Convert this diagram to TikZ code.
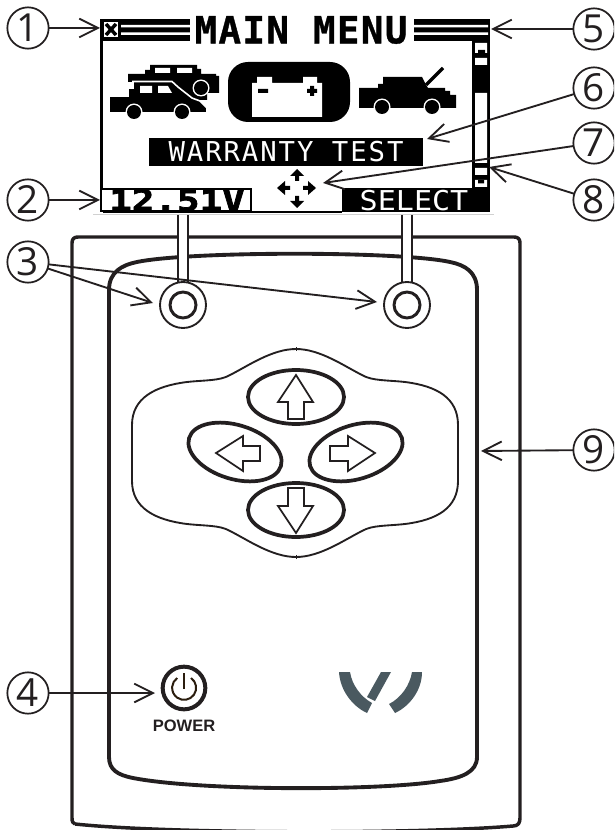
\documentclass[tikz,border=0pt]{standalone}
\usepackage{fontspec}
\usetikzlibrary{arrows.meta,shapes.geometric}
\setmainfont{Liberation Sans}
\newfontfamily\numfont{Open Sans}
\newfontfamily\menufont[LetterSpace=4,BoldFeatures={FakeBold=1}]{DejaVu Sans Mono}
\newfontfamily\warrfont[LetterSpace=7]{DejaVu Sans Mono}
\newfontfamily\voltfont[FakeStretch=1.28,BoldFeatures={FakeBold=2.5}]{DejaVu Sans Mono}
\newfontfamily\selfont[FakeStretch=1.1]{DejaVu Sans Mono}
\definecolor{ink}{HTML}{231F20}
\definecolor{logoc}{HTML}{4A5960}
\definecolor{pwr}{HTML}{2B1D0E}
\tikzset{
  lbl/.style={circle,draw=ink,line width=1.3pt,fill=white,minimum size=31pt,inner sep=0pt,outer sep=0pt,
    font=\numfont\fontsize{29}{29}\selectfont,text=ink},
  arr/.style={draw=ink,line width=1.4pt,-{Straight Barb[length=14pt,width=14pt,line width=1.4pt]}},
  body/.style={draw=ink,line width=2.6pt,line join=round},
  keyb/.style={ellipse,draw=ink,line width=2.8pt,fill=white,minimum width=72pt,minimum height=40.5pt,inner sep=0pt,outer sep=0pt},
  harrow/.style={draw=ink,line width=1.3pt,fill=white,line join=miter},
  stem/.style={draw=ink,line width=1.4pt},
  round1/.style={circle,draw=ink,line width=1.4pt,fill=white,minimum size=34.5pt,inner sep=0pt,outer sep=0pt},
  round2/.style={circle,draw=ink,line width=2.2pt,fill=white,minimum size=19.5pt,inner sep=0pt,outer sep=0pt},
  lcdtext/.style={inner sep=0pt,outer sep=0pt},
}
\begin{document}
\begin{tikzpicture}[x=0.75pt,y=-0.75pt]
\path[use as bounding box] (0,0) rectangle (614,830);
\clip (0,0) rectangle (614,830);
% outer body
\draw[body] (75,824) .. controls (73,823) and (72,822) .. (72,818) -- (72,243)
  .. controls (72,239) and (74,237) .. (78,237) -- (514,237)
  .. controls (518,237) and (520,239) .. (520,243) -- (520,818)
  .. controls (520,823) and (518,826) .. (513,826)
  .. controls (420,834) and (170,834) .. (75,824);
% inner body
\draw[body,line width=2.9pt] (109,757) -- (109,290) .. controls (109,272) and (122,265) .. (137,262)
  .. controls (190,251) and (400,251) .. (450,262)
  .. controls (465,265) and (477,272) .. (477,290) -- (477,757)
  .. controls (477,772) and (462,778) .. (440,781)
  .. controls (380,791) and (200,791) .. (133,778)
  .. controls (118,775) and (109,770) .. (109,757);
% key pad blob
\draw[draw=ink,line width=1.4pt] (296,349)
  .. controls (272,349) and (248,366) .. (230,375)
  .. controls (220,381) and (205,380) .. (187,382)
  .. controls (155,386) and (132,398) .. (132,425) -- (132,481)
  .. controls (132,508) and (155,520) .. (187,524)
  .. controls (205,526) and (220,525) .. (230,531)
  .. controls (248,540) and (272,557) .. (296,557)
  .. controls (320,557) and (344,540) .. (362,531)
  .. controls (372,525) and (387,526) .. (405,524)
  .. controls (437,520) and (458,508) .. (458,481) -- (458,425)
  .. controls (458,398) and (437,386) .. (405,382)
  .. controls (387,380) and (372,381) .. (362,375)
  .. controls (344,366) and (320,349) .. (296,349);
\draw[draw=ink,line width=0.6pt] (296,347) -- (296,351) (296,555) -- (296,559);
% keys
\node[keyb] (keyU) at (296,397) {};
\node[keyb] (keyD) at (296,510) {};
\node[keyb,rotate=-17] (keyL) at (235,452) {};
\node[keyb,rotate=17] (keyR) at (356,452) {};
\draw[harrow] (296,375) -- (313,402) -- (304,402) -- (304,419) -- (288,419) -- (288,402) -- (278,402) -- cycle;
\draw[harrow] (296,533) -- (313,506) -- (304,506) -- (304,488) -- (288,488) -- (288,506) -- (278,506) -- cycle;
\draw[harrow] (216,453) -- (243,436) -- (243,446) -- (260,446) -- (260,461) -- (243,461) -- (243,471) -- cycle;
\draw[harrow] (375,453) -- (348,436) -- (348,446) -- (330,446) -- (330,461) -- (348,461) -- (348,471) -- cycle;
% soft-key stems and buttons
\fill[white] (178,214) rectangle (188,290);
\fill[white] (402,214) rectangle (412,290);
\draw[stem] (178,214) -- (178,290) (188,214) -- (188,290) (402,214) -- (402,290) (412,214) -- (412,290);
\node[round1] (softL) at (183,305) {};
\node[round2] (softLi) at (183,305) {};
\node[round1] (softR) at (407,305) {};
\node[round2] (softRi) at (407,305) {};
% screen
\draw[draw=black!18,line width=0.5pt] (93,214) -- (494,214);
\fill[black] (100,19) rectangle (103,212);
\fill[black] (103,211.2) rectangle (342,212.6);
\fill[black] (100,19) rectangle (190,41);
\fill[black] (414,19) rectangle (490,41);
\fill[black] (472,41) rectangle (490,212);
\fill[white] (121,25) rectangle (190,27.5) (121,32.5) rectangle (190,35);
\fill[white] (414,25) rectangle (488,27.5) (414,32.5) rectangle (488,35);
\fill[white] (104,22) rectangle (118,37);
\draw[black,line width=2.6pt] (106,24) -- (116,35) (116,24) -- (106,35);
\node[lcdtext,font=\menufont\bfseries\fontsize{28}{30}\selectfont] (title) at (301,30) {MAIN MENU};
% scroll bar
\fill[white] (475,43) rectangle (487,53) (475,58) rectangle (487,65) (475,93) rectangle (487,163) (475,168) rectangle (487,175) (475,180) rectangle (487,187);
\fill[black] (478,50) rectangle (485,53) (478,180) rectangle (484,183.5);
% rear car
\fill[black] (128,74) -- (145,74) -- (145,70) -- (150,70) -- (150,65) -- (197,65) -- (197,69) -- (201,69) -- (201,74) -- (216,74) -- (216,76) -- (219,76) -- (219,93) -- (207,93) -- (207,100) -- (133,100) -- (133,82) -- (128,82) -- cycle;
\fill[white] (155,68) rectangle (170,73) (177,68) rectangle (192,73);
\fill[white] (201,88) circle[radius=8.5];
\fill[black] (201,88) circle[radius=7];
% front car
\filldraw[black,draw=white,line width=1.2pt,line join=miter] (109,96) -- (128,96) -- (128,88) -- (133,88) -- (133,81.5) -- (172,81.5) -- (178,87) -- (192,98) -- (200,101) -- (207,108) -- (207,113) -- (109,113) -- cycle;
\fill[white] (140,86) rectangle (152,93) (158,86) -- (168,86) -- (172,93) -- (158,93) -- cycle;
\fill[white] (134,112) circle[radius=8.5] (182,112) circle[radius=8.5];
\fill[black] (134,112) circle[radius=7] (182,112) circle[radius=7];
% battery icon
\fill[black,rounded corners=15pt] (228,62) rectangle (350,122);
\fill[white] (252,83) rectangle (322,117) (257,77) rectangle (272,83) (303,77) rectangle (317,83);
\fill[black] (258,89) rectangle (268,93) (310,86) rectangle (314,96) (307,89) rectangle (317,93);
% open-bonnet car
\fill[black] (359,88) -- (378,88) -- (378,84) -- (383,84) -- (383,77) -- (422,77) -- (426,85) -- (428,88) -- (445,88) -- (445,91) -- (450,91) -- (450,95) -- (456,95) -- (456,108) -- (359,108) -- cycle;
\draw[black,line width=2.6pt] (426,85) -- (443,68);
\fill[white] (382,107) circle[radius=8.5] (432,107) circle[radius=8.5];
\fill[black] (382,107) circle[radius=7] (432,107) circle[radius=7];
% warranty bar
\node[lcdtext,fill=black,text=white,minimum width=205.5pt,minimum height=21pt,font=\warrfont\fontsize{20.5}{22}\selectfont] (warranty) at (286,152) {WARRANTY TEST};
% cross of arrows
\fill[black] (297,169) -- (304,176) -- (299,176) -- (299,181) -- (295,181) -- (295,176) -- (290,176) -- cycle;
\fill[black] (297,208) -- (304,201) -- (299,201) -- (299,196) -- (295,196) -- (295,201) -- (290,201) -- cycle;
\fill[black] (277,188) -- (285,181) -- (285,186) -- (290,186) -- (290,190) -- (285,190) -- (285,195) -- cycle;
\fill[black] (316,188) -- (308,181) -- (308,186) -- (303,186) -- (303,190) -- (308,190) -- (308,195) -- cycle;
% soft-key captions
\draw[black,line width=2.2pt,fill=white] (101,189) rectangle (251,211);
\node[lcdtext,font=\voltfont\bfseries\fontsize{22}{23}\selectfont] (volt) at (177,200) {12.51V};
\fill[black] (342,188) rectangle (490,212);
\node[lcdtext,text=white,font=\selfont\fontsize{20.5}{22}\selectfont] (select) at (414,201) {SELECT};
% power button
\node[circle,draw=ink,line width=3pt,fill=white,minimum size=32pt,inner sep=0pt,outer sep=0pt] (power) at (184,688) {};
\draw[draw=pwr,line width=1.5pt] (191,678) arc[start angle=-55,end angle=235,radius=12];
\draw[draw=pwr,line width=1.5pt] (184,673) -- (184,689);
\node[inner sep=0pt,text=ink,font=\bfseries\fontsize{12.4}{13}\selectfont] (powerlabel) at (184,726) {POWER};
% logo
\fill[logoc] (339,672) -- (350,672) .. controls (352,685) and (361,697) .. (372,703) -- (367,713) .. controls (352,706) and (340,690) .. cycle;
\fill[logoc] (422,672) -- (412,672) .. controls (410,685) and (401,698) .. (389,704) -- (395,713) .. controls (410,706) and (422,690) .. cycle;
\fill[logoc] (381,672) -- (391,672) -- (375,701) -- (367,697) -- cycle;
% callouts
\node[lbl] (n1) at (28,28) {1};
\node[lbl] (n2) at (28,200) {2};
\node[lbl] (n3) at (28,262) {3};
\node[lbl] (n4) at (28,693) {4};
\node[lbl] (n5) at (594,29) {5};
\node[lbl] (n6) at (594,88) {6};
\node[lbl] (n7) at (594,143) {7};
\node[lbl] (n8) at (594,200) {8};
\node[lbl] (n9) at (594,450) {9};
\coordinate (t1) at (100,28);
\coordinate (t2) at (100,200);
\coordinate (t3a) at (153,303);
\coordinate (t3b) at (377,302);
\coordinate (t4) at (155,693);
\coordinate (t5) at (491,29);
\coordinate (t6) at (427,139);
\coordinate (t7) at (323,183);
\coordinate (t8) at (489,167);
\coordinate (t9) at (481,451);
\draw[arr] (n1) -- (t1);
\draw[arr] (n2) -- (t2);
\draw[arr] (n3) -- (t3a);
\draw[arr] (n3) -- (t3b);
\draw[arr] (n4) -- (t4);
\draw[arr] (n5) -- (t5);
\draw[arr] (n6) -- (t6);
\draw[arr] (n7) -- (t7);
\draw[arr] (n8) -- (t8);
\draw[arr] (n9) -- (t9);
\end{tikzpicture}
\end{document}
